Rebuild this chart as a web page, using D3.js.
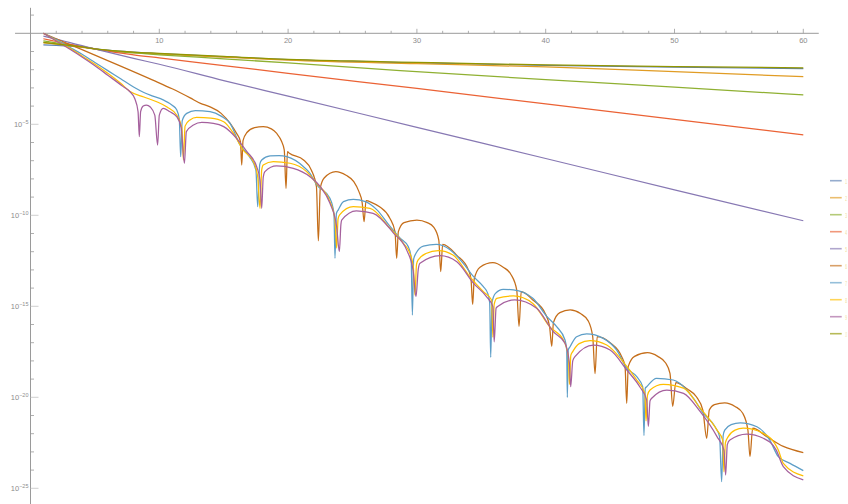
<!DOCTYPE html>
<html>
<head>
<meta charset="utf-8">
<script src="https://cdn.jsdelivr.net/npm/d3@7"></script>
<style>
  body { margin: 0; background: #fff; }
  svg { display: block; }
  text { font-family: "Liberation Sans", Arial, sans-serif; }
</style>
</head>
<body>
<svg id="chart" width="848" height="504"></svg>
<script>
// values: [x, log10(y)]
const s1 = [[1,-0.64],[2,-0.67],[3,-0.7],[4,-0.76],[5,-0.85],[6,-0.93],[8,-1.04],[10,-1.12],[15,-1.29],[20,-1.45],[30,-1.62],[40,-1.76],[50,-1.86],[60,-1.94]];
const s2 = [[1,-0.52],[2,-0.6],[3,-0.68],[4,-0.77],[5,-0.87],[6,-0.95],[8,-1.06],[10,-1.14],[15,-1.31],[20,-1.47],[30,-1.67],[40,-1.85],[50,-2.11],[60,-2.38]];
const s3 = [[1,-0.42],[2,-0.52],[3,-0.62],[4,-0.73],[5,-0.85],[6,-0.95],[8,-1.08],[10,-1.18],[15,-1.4],[20,-1.63],[28.7,-2.05],[40,-2.55],[50,-2.96],[60,-3.39]];
const s4 = [[1,-0.3],[2,-0.45],[3,-0.6],[4,-0.73],[5,-0.85],[6,-0.98],[8,-1.18],[10,-1.35],[15,-1.77],[20,-2.2],[30,-3.03],[40,-3.88],[50,-4.73],[60,-5.58]];
const s5 = [[1,-0.15],[2,-0.32],[3,-0.5],[4,-0.68],[5,-0.86],[6,-1.04],[8,-1.38],[10,-1.7],[15,-2.6],[20,-3.45],[30,-5.17],[40,-6.88],[50,-8.6],[60,-10.3]];
const s6 = [[1,0],[3,-0.6],[5,-1.2],[7,-1.8],[9.5,-2.57],[11,-3.05],[12.4,-3.55],[13.2,-3.85],[13.9,-4.03],[14.8,-4.4],[15.5,-4.95],[16,-5.5],[16.3,-5.95],[16.4,-7.24],[16.5,-5.9],[16.8,-5.45],[17.4,-5.18],[18.07,-5.13],[18.7,-5.25],[19.1,-5.49],[19.5,-5.95],[19.7,-6.4],[19.84,-8.52],[19.95,-6.5],[20.1,-6.59],[21.2,-6.96],[21.8,-7.51],[22.2,-8.43],[22.35,-11.4],[22.5,-8.5],[22.8,-7.95],[23.7,-7.6],[24.5,-7.8],[25.1,-8.15],[25.5,-8.7],[25.75,-9.3],[25.9,-10.35],[26.05,-9.2],[26.5,-9.3],[27.1,-9.53],[27.9,-10.16],[28.3,-10.9],[28.43,-12.36],[28.56,-10.9],[29,-10.4],[30,-10.26],[30.8,-10.4],[31.3,-10.65],[31.7,-11.36],[31.85,-13.1],[32,-11.6],[33.1,-12.2],[34,-13],[34.2,-13.5],[34.33,-14.9],[34.45,-13.5],[34.9,-12.85],[35.9,-12.6],[36.7,-12.85],[37.3,-13.25],[37.75,-14.1],[37.93,-16.1],[38.1,-14.2],[39,-14.65],[39.95,-15.38],[40.3,-16.1],[40.47,-17.2],[40.6,-15.9],[41.1,-15.35],[41.9,-15.2],[42.7,-15.4],[43.3,-15.8],[43.65,-16.67],[43.83,-18.7],[44,-16.67],[45,-17],[45.9,-17.77],[46.16,-18.3],[46.29,-20.33],[46.41,-18.3],[46.9,-17.75],[47.9,-17.55],[48.7,-17.75],[49.3,-18.1],[49.65,-18.68],[49.86,-20.5],[50.1,-19.2],[51,-19.55],[51.7,-19.97],[52.2,-20.7],[52.5,-22.25],[52.7,-20.7],[53.1,-20.4],[53.9,-20.3],[54.7,-20.5],[55.3,-20.88],[55.7,-21.8],[55.86,-23.26],[56.07,-21.7],[57.16,-22.16],[58.45,-22.7],[60,-23.04]];
const s7 = [[1,0],[2,-0.35],[3,-0.75],[4,-1.15],[5,-1.6],[6,-2.05],[7,-2.5],[8,-2.95],[8.8,-3.25],[9.5,-3.45],[10.3,-3.66],[11,-3.95],[11.35,-4.2],[11.55,-4.7],[11.66,-6.78],[11.78,-4.8],[12.13,-4.4],[12.8,-4.25],[13.94,-4.31],[14.8,-4.55],[15.5,-4.95],[16.27,-6.14],[17,-6.78],[17.5,-7.51],[17.64,-9.53],[17.8,-7.2],[17.95,-6.96],[18.6,-6.74],[19.3,-6.72],[19.9,-6.78],[21.2,-7.33],[21.7,-7.69],[22.2,-8.3],[23.25,-9.07],[23.56,-9.89],[23.64,-12.36],[23.75,-9.9],[23.9,-9.7],[24.3,-9.25],[25.06,-9.12],[26,-9.25],[26.9,-9.7],[27.9,-10.6],[28.7,-11.26],[29.33,-11.72],[29.55,-12.3],[29.65,-15.48],[29.75,-12.4],[29.93,-12.09],[30.5,-11.69],[31.5,-11.6],[32.6,-11.9],[33.6,-12.64],[34.4,-13.37],[35.16,-13.92],[35.5,-14.29],[35.65,-14.8],[35.73,-17.8],[35.83,-14.8],[36.1,-14.29],[36.7,-14.07],[37.5,-14.1],[39,-14.56],[40.1,-15.57],[40.85,-16.12],[41.5,-16.85],[41.63,-17.4],[41.68,-20],[41.75,-17.4],[41.89,-17.22],[42.4,-16.67],[43.18,-16.52],[44.47,-16.76],[45.5,-17.4],[46.29,-18.4],[47.07,-18.87],[47.53,-19.42],[47.63,-22.1],[47.73,-19.5],[47.84,-19.42],[48.6,-18.96],[49.9,-19.05],[50.4,-19.23],[51.46,-20.05],[52.24,-20.88],[53.15,-21.62],[53.5,-22.16],[53.66,-24.64],[53.78,-22.1],[53.9,-21.8],[54.4,-21.5],[55.1,-21.4],[56.4,-21.62],[57.4,-22.35],[58.06,-23.26],[58.97,-23.63],[60,-24.03]];
const s8 = [[1,0],[2,-0.4],[3,-0.8],[4,-1.25],[5,-1.7],[6,-2.2],[7,-2.75],[7.73,-3.2],[8.8,-3.5],[9.8,-3.76],[10.6,-4.05],[11.35,-4.49],[11.75,-5.2],[11.87,-6.96],[12,-5.1],[12.38,-4.76],[12.9,-4.62],[14,-4.66],[15,-4.86],[15.75,-5.49],[16.5,-6.41],[17.3,-7.05],[17.64,-7.88],[17.82,-9.62],[17.95,-7.5],[18.07,-7.24],[18.85,-7.05],[20.15,-7.14],[21.44,-7.6],[22.2,-8.24],[23.25,-9.25],[23.64,-10.26],[23.77,-11.8],[23.88,-10.2],[24,-9.98],[25.06,-9.53],[26.36,-9.62],[27.9,-10.7],[28.95,-11.54],[29.46,-12.09],[29.72,-12.82],[29.85,-14.38],[29.97,-12.7],[30.1,-12.45],[30.7,-12.1],[31.66,-11.94],[32.8,-12.18],[34.1,-13.37],[35.16,-14.2],[35.8,-14.65],[35.9,-16.7],[36,-14.9],[36.2,-14.56],[37.5,-14.43],[39,-14.84],[40.3,-16.12],[41.37,-16.85],[41.76,-17.77],[41.84,-19.3],[41.95,-17.7],[42.1,-17.49],[42.6,-17.05],[43.44,-16.89],[44.74,-17.13],[46,-18.04],[47.07,-19.05],[47.7,-19.78],[47.79,-21.3],[47.9,-19.9],[48.1,-19.6],[49.13,-19.29],[50.7,-19.5],[52,-20.6],[53.3,-21.8],[53.74,-22.35],[53.84,-24.09],[53.95,-22.5],[54.17,-22.16],[54.7,-21.8],[55.34,-21.7],[56.9,-21.98],[58.06,-22.9],[58.45,-23.63],[60,-24.32]];
const s9 = [[1,0],[2,-0.42],[3,-0.85],[4,-1.3],[5,-1.78],[6,-2.3],[7.2,-2.93],[7.7,-3.2],[8.1,-3.6],[8.35,-4.3],[8.45,-5.68],[8.55,-4.3],[8.75,-4],[9,-3.94],[9.3,-4.05],[9.65,-4.5],[9.87,-6.14],[10,-4.5],[10.3,-4.12],[10.8,-4.3],[11.35,-4.58],[11.7,-5.2],[11.95,-7.14],[12.1,-5.4],[12.65,-5.04],[13.3,-4.9],[14.2,-4.95],[15,-5.13],[16,-5.77],[16.8,-6.5],[17.56,-7.33],[17.82,-8.06],[17.95,-9.62],[18.07,-7.9],[18.2,-7.6],[19.1,-7.29],[20.4,-7.42],[21.7,-7.88],[22.5,-8.43],[23.25,-9.34],[23.77,-10.63],[23.98,-12],[24.1,-10.5],[24.16,-10.26],[25.3,-9.75],[26.6,-9.89],[28.2,-10.99],[29.2,-11.9],[29.7,-13],[29.93,-14.47],[30.1,-13],[30.24,-12.64],[31.8,-12.22],[33.1,-12.55],[34.4,-13.74],[35.4,-14.47],[35.9,-15.02],[36,-16.95],[36.15,-15.1],[36.3,-15],[37.6,-14.65],[39.3,-15.11],[40.6,-16.4],[41.5,-17.03],[41.84,-18.13],[41.94,-19.42],[42.1,-18],[42.27,-17.77],[43.7,-17.13],[45,-17.4],[46.3,-18.5],[47.3,-19.42],[47.84,-20.15],[47.97,-21.6],[48.1,-20.2],[48.23,-20.05],[49.4,-19.6],[50.7,-19.78],[52,-20.79],[53.3,-22.16],[53.84,-22.9],[53.97,-24.27],[54.1,-22.6],[54.3,-22.35],[55.6,-22.02],[56.9,-22.25],[57.9,-22.9],[58.45,-23.81],[60,-24.54]];
const s10 = [[1,-0.5],[2,-0.58],[3,-0.66],[4,-0.75],[5,-0.85],[6,-0.93],[8,-1.03],[10,-1.1],[15,-1.27],[20,-1.43],[25,-1.52],[30,-1.6],[40,-1.74],[50,-1.83],[60,-1.9]];

const seriesList = [s1, s2, s3, s4, s5, s6, s7, s8, s9, s10];
const colors = ["#5E81B5", "#E19C24", "#8FB032", "#EB6235", "#8778B3", "#C56E1A", "#5D9EC7", "#FFBF00", "#A5609D", "#929600"];
const legendLabels = ["1", "2", "3", "4", "5", "6", "7", "8", "9", "10"];
const xMajorTicks = [10, 20, 30, 40, 50, 60];
const xMinorTicks = [2, 4, 6, 8, 12, 14, 16, 18, 22, 24, 26, 28, 32, 34, 36, 38, 42, 44, 46, 48, 52, 54, 56, 58];
const yMajorExps = [-5, -10, -15, -20, -25];
const yMinorExps = [1, -1, -2, -3, -4, -6, -7, -8, -9, -11, -12, -13, -14, -16, -17, -18, -19, -21, -22, -23, -24];

const svg = d3.select("#chart");
const axisColor = "#9a9a9a";
const labelColor = "#8c8c8c";

const x = d3.scaleLinear().domain([0, 60]).range([30.5, 803.3]);
const y = d3.scaleLog().domain([1, 1e-25]).range([33.3, 488.3]);
const y0 = y(1);
const x0 = x(0);

// axes
svg.append("line")
    .attr("x1", x(-1.2)).attr("x2", x(61.2))
    .attr("y1", y0).attr("y2", y0)
    .attr("stroke", axisColor).attr("stroke-width", 1);
svg.append("line")
    .attr("x1", x0).attr("x2", x0)
    .attr("y1", y(Math.pow(10, 1.4))).attr("y2", 504)
    .attr("stroke", axisColor).attr("stroke-width", 1);

svg.selectAll(".xminor").data(xMinorTicks).enter().append("line")
    .attr("x1", d => x(d)).attr("x2", d => x(d))
    .attr("y1", y0).attr("y2", y0 - 2.5)
    .attr("stroke", axisColor).attr("stroke-width", 0.8);
svg.selectAll(".xmajor").data(xMajorTicks).enter().append("line")
    .attr("x1", d => x(d)).attr("x2", d => x(d))
    .attr("y1", y0).attr("y2", y0 - 4.5)
    .attr("stroke", axisColor).attr("stroke-width", 0.8);
svg.selectAll(".xlabel").data(xMajorTicks).enter().append("text")
    .attr("x", d => x(d)).attr("y", y0 + 9.5)
    .attr("text-anchor", "middle")
    .attr("font-size", 7.5).attr("fill", labelColor)
    .text(d => d);

svg.selectAll(".yminor").data(yMinorExps).enter().append("line")
    .attr("x1", x0).attr("x2", x0 + 3.5)
    .attr("y1", d => y(Math.pow(10, d))).attr("y2", d => y(Math.pow(10, d)))
    .attr("stroke", axisColor).attr("stroke-width", 0.8);
svg.selectAll(".ymajor").data(yMajorExps).enter().append("line")
    .attr("x1", x0).attr("x2", x0 + 8)
    .attr("y1", d => y(Math.pow(10, d))).attr("y2", d => y(Math.pow(10, d)))
    .attr("stroke", "#c4c4c4").attr("stroke-width", 0.8);
const ylab = svg.selectAll(".ylabel").data(yMajorExps).enter().append("text")
    .attr("x", 28.5).attr("y", d => y(Math.pow(10, d)) + 2.5)
    .attr("text-anchor", "end")
    .attr("font-size", 7.5).attr("fill", labelColor);
ylab.append("tspan").text("10");
ylab.append("tspan").attr("font-size", 5.5).attr("dy", -3.2).text(d => "\u2212" + (-d));

// series
const line = d3.line()
    .x(d => x(d[0]))
    .y(d => y(Math.pow(10, d[1])))
    .curve(d3.curveMonotoneX);

seriesList.forEach((s, i) => {
    svg.append("path")
        .datum(s)
        .attr("d", line)
        .attr("fill", "none")
        .attr("stroke", colors[i])
        .attr("stroke-width", 1.25)
        .attr("stroke-linejoin", "round");
});

// legend (labels squeezed into the sliver left at the right edge)
const legend = svg.selectAll(".legend").data(colors).enter().append("g")
    .attr("transform", (d, i) => `translate(830, ${180.7 + i * 17})`);
legend.append("line")
    .attr("x1", 0).attr("x2", 11.7)
    .attr("stroke", d => d).attr("stroke-width", 1.6).attr("opacity", 0.65);
legend.append("text")
    .attr("transform", (d, i) => `translate(15.3, 3.5) scale(${legendLabels[i].length > 1 ? 0.2 : 0.4}, 1)`)
    .attr("font-size", 8).attr("fill", "#f0dd98")
    .text((d, i) => legendLabels[i]);
</script>
</body>
</html>
